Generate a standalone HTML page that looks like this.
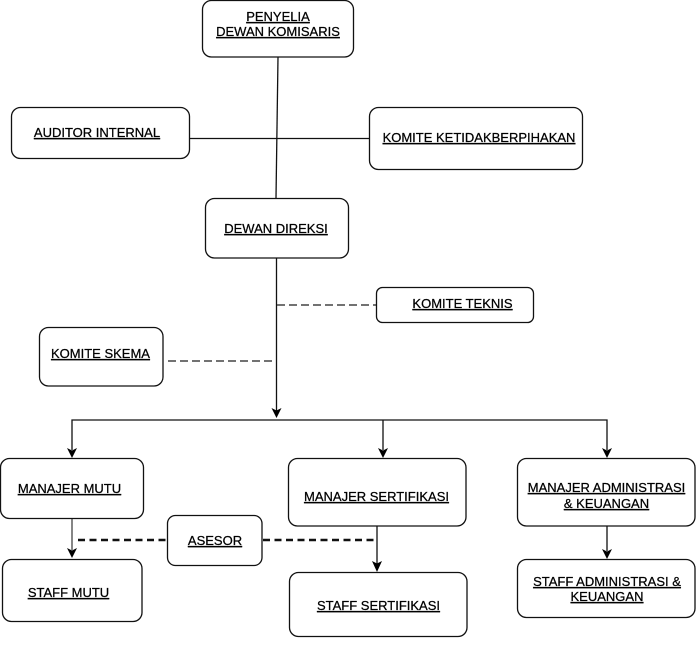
<!DOCTYPE html>
<html><head><meta charset="utf-8"><style>
html,body{margin:0;padding:0;background:#fff;}
svg{display:block;}
text{font-family:"Liberation Sans",Arial,sans-serif;font-size:13px;fill:#000;stroke:#000;stroke-width:0.25;text-decoration:underline;text-anchor:middle;}
</style></head><body>
<svg width="696" height="661" viewBox="0 0 696 661" xmlns="http://www.w3.org/2000/svg">
<g fill="none" stroke="#111" stroke-width="1.3">
<line x1="278" y1="57" x2="276" y2="198"/>
<line x1="189" y1="138.5" x2="369" y2="138.5"/>
<line x1="276.5" y1="258" x2="276.5" y2="411"/>
<polyline points="72,450 72,420 607,420 607,450"/>
<line x1="383" y1="420" x2="383" y2="450"/>
<line x1="72" y1="518" x2="72" y2="550" stroke="#444"/>
<line x1="377" y1="526" x2="377" y2="564"/>
<line x1="607" y1="526" x2="607" y2="551"/>
</g>
<g stroke="#444" stroke-width="1.4" stroke-dasharray="8,4" fill="none">
<line x1="277" y1="305" x2="376" y2="305"/>
<line x1="168" y1="361" x2="276" y2="361"/>
</g>
<g stroke="#111" stroke-width="2.4" stroke-dasharray="7,4.5" fill="none">
<line x1="78" y1="540" x2="167" y2="540"/>
<line x1="263" y1="540" x2="377" y2="540"/>
</g>
<g fill="#000">
<polygon points="271.5,408 276.5,418 281.5,408 276.5,410.5"/>
<polygon points="67,448 72,458 77,448 72,450.5"/>
<polygon points="378,448 383,458 388,448 383,450.5"/>
<polygon points="602,448 607,458 612,448 607,450.5"/>
<polygon points="67,548 72,558 77,548 72,550.5"/>
<polygon points="372,561 377,572 382,561 377,563.5"/>
<polygon points="602,549 607,559 612,549 607,551.5"/>
</g>
<g fill="#fff" stroke="#111" stroke-width="1.3">
<rect x="202.5" y="0.5" width="151" height="56.5" rx="9"/>
<rect x="11.5" y="107.5" width="178" height="51" rx="9"/>
<rect x="369.5" y="107.5" width="213" height="62" rx="9"/>
<rect x="205.5" y="198.5" width="143" height="59.5" rx="9"/>
<rect x="376.5" y="287.5" width="157" height="35" rx="6"/>
<rect x="39.5" y="327.5" width="123.5" height="58.5" rx="9"/>
<rect x="0.5" y="458.5" width="143" height="60" rx="9"/>
<rect x="288.5" y="458.5" width="177.5" height="67.5" rx="9"/>
<rect x="517.5" y="458.5" width="177.5" height="67.5" rx="9"/>
<rect x="167.5" y="515.5" width="94.5" height="50" rx="8"/>
<rect x="2.5" y="559.5" width="139.5" height="62" rx="9"/>
<rect x="289.5" y="572.5" width="177.5" height="64" rx="9"/>
<rect x="517.5" y="559.5" width="177.5" height="58" rx="9"/>
</g>
<text x="278" y="21">PENYELIA</text>
<text x="278" y="36">DEWAN KOMISARIS</text>
<text x="97" y="137">AUDITOR INTERNAL</text>
<text x="479" y="142">KOMITE KETIDAKBERPIHAKAN</text>
<text x="276" y="233">DEWAN DIREKSI</text>
<text x="462.5" y="308">KOMITE TEKNIS</text>
<text x="100.5" y="358">KOMITE SKEMA</text>
<text x="69.5" y="493">MANAJER MUTU</text>
<text x="376.5" y="501">MANAJER SERTIFIKASI</text>
<text x="606.5" y="492">MANAJER ADMINISTRASI</text>
<text x="606.5" y="508">&amp; KEUANGAN</text>
<text x="215" y="545">ASESOR</text>
<text x="68.5" y="597">STAFF MUTU</text>
<text x="378.5" y="610">STAFF SERTIFIKASI</text>
<text x="607" y="586">STAFF ADMINISTRASI &amp;</text>
<text x="607" y="601">KEUANGAN</text>
</svg>
</body></html>
